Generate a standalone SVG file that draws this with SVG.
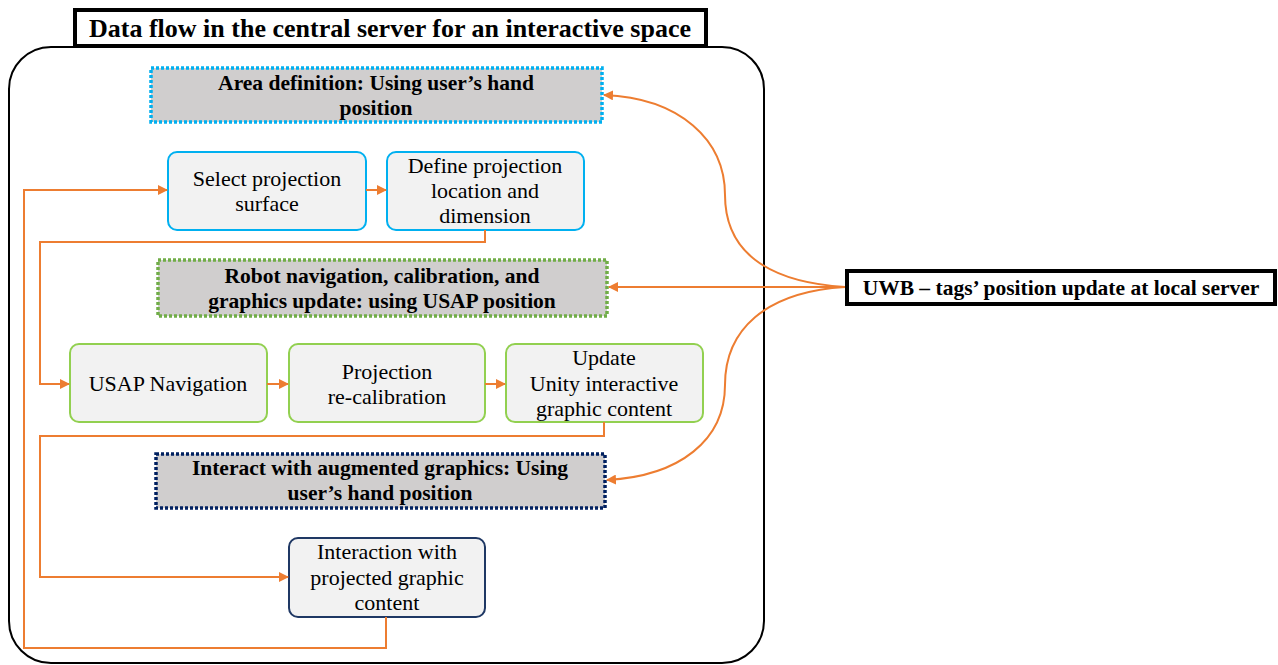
<svg xmlns="http://www.w3.org/2000/svg" width="1278" height="665" viewBox="0 0 1278 665">
<defs>
<style>
text{font-family:"Liberation Serif","Times New Roman",serif;fill:#000;text-anchor:middle}
.b{font-weight:bold;font-size:21.5px}
.t{font-size:22px}
.title{font-weight:bold;font-size:26px}
.proc{fill:#f2f2f2;stroke-width:2}
.hdr{fill:#d0cece;stroke-width:3.5;stroke-dasharray:3 2}
.con{fill:none;stroke:#ed7d31;stroke-width:2}
</style>
<marker id="ah" viewBox="0 0 10 10" refX="9" refY="5" markerWidth="10" markerHeight="10" markerUnits="userSpaceOnUse" orient="auto">
<path d="M0,0 L10,5 L0,10 z" fill="#ed7d31"/>
</marker>
</defs>
<rect width="1278" height="665" fill="#fff"/>
<g id="frame">
<rect x="9" y="47" width="755" height="616" rx="42" fill="none" stroke="#000" stroke-width="2"/>
</g>
<g id="title">
<rect x="75" y="10" width="631" height="36" fill="#fff" stroke="#000" stroke-width="4"/>
<text class="title" x="390" y="37">Data flow in the central server for an interactive space</text>
</g>
<g id="area">
<rect class="hdr" x="151" y="68" width="451" height="54" stroke="#00b0f0"/>
<text class="b" x="376" y="90">Area definition: Using user’s hand</text>
<text class="b" x="376" y="115">position</text>
</g>
<g id="select">
<rect class="proc" x="168" y="152" width="198" height="78" rx="9" stroke="#00b0f0"/>
<text class="t" x="267" y="186">Select projection</text>
<text class="t" x="267" y="211">surface</text>
</g>
<g id="define">
<rect class="proc" x="387" y="152" width="197" height="78" rx="9" stroke="#00b0f0"/>
<text class="t" x="485" y="173">Define projection</text>
<text class="t" x="485" y="198">location and</text>
<text class="t" x="485" y="223">dimension</text>
</g>
<g id="robot">
<rect class="hdr" x="158" y="260" width="449" height="56" stroke="#70ad47"/>
<text class="b" x="382" y="283">Robot navigation, calibration, and</text>
<text class="b" x="382" y="308">graphics update: using USAP position</text>
</g>
<g id="usap">
<rect class="proc" x="70" y="344" width="197" height="78" rx="9" stroke="#92d050"/>
<text class="t" x="168" y="391">USAP Navigation</text>
</g>
<g id="recal">
<rect class="proc" x="289" y="344" width="196" height="78" rx="9" stroke="#92d050"/>
<text class="t" x="387" y="379">Projection</text>
<text class="t" x="387" y="404">re-calibration</text>
</g>
<g id="update">
<rect class="proc" x="506" y="344" width="197" height="78" rx="9" stroke="#92d050"/>
<text class="t" x="604" y="365">Update</text>
<text class="t" x="604" y="391">Unity interactive</text>
<text class="t" x="604" y="416">graphic content</text>
</g>
<g id="interact">
<rect class="hdr" x="156" y="454" width="449" height="54" stroke="#002060"/>
<text class="b" x="380" y="475">Interact with augmented graphics: Using</text>
<text class="b" x="380" y="500">user’s hand position</text>
</g>
<g id="interaction">
<rect class="proc" x="289" y="538" width="196" height="79" rx="9" stroke="#1f3864"/>
<text class="t" x="387" y="559">Interaction with</text>
<text class="t" x="387" y="585">projected graphic</text>
<text class="t" x="387" y="610">content</text>
</g>
<g id="uwb">
<rect x="847" y="271" width="428" height="33" fill="#fff" stroke="#000" stroke-width="4"/>
<text class="b" x="1061" y="295">UWB – tags’ position update at local server</text>
</g>
<g id="connectors">
<path class="con" d="M366,190 H386" marker-end="url(#ah)"/>
<path class="con" d="M267,384 H288" marker-end="url(#ah)"/>
<path class="con" d="M485,384 H505" marker-end="url(#ah)"/>
<path class="con" d="M386,617 V648 H24 V190 H167" marker-end="url(#ah)"/>
<path class="con" d="M485,230 V242 H40 V384 H69" marker-end="url(#ah)"/>
<path class="con" d="M604,422 V436 H40 V577 H288" marker-end="url(#ah)"/>
<path class="con" d="M845,287 H609" marker-end="url(#ah)"/>
<path class="con" d="M845,287 C765,282 725,250 725,195 C725,140 680,98 604,95" marker-end="url(#ah)"/>
<path class="con" d="M845,287 C765,292 725,330 725,385 C725,440 680,476 607,480" marker-end="url(#ah)"/>
</g>
</svg>
